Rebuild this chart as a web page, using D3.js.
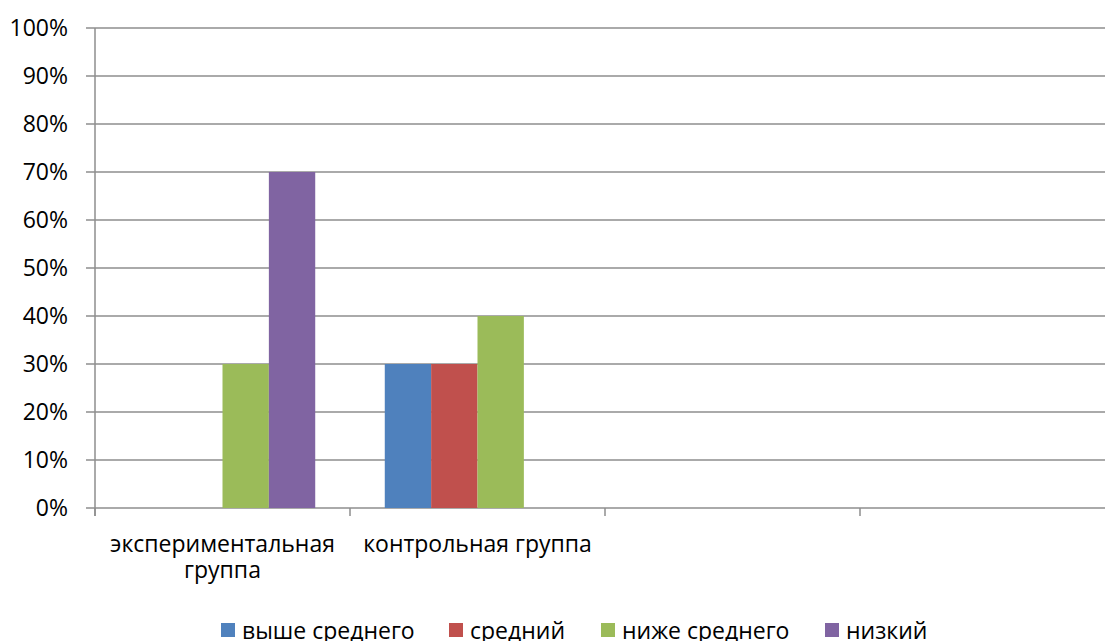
<!DOCTYPE html>
<html>
<head>
<meta charset="utf-8">
<script src="https://cdn.jsdelivr.net/npm/d3@7"></script>
<style>
  html, body { margin: 0; padding: 0; background: #fff; overflow: hidden; }
  svg text { font-family: "Open Sans", "Liberation Sans", sans-serif; fill: #000; }
</style>
</head>
<body>
<svg id="chart" width="1105" height="641"></svg>
<script>
// Category slots on the x axis (the last two are empty)
const categories = ["экспериментальная группа", "контрольная группа", "", " "];
const seriesNames = ["выше среднего", "средний", "ниже среднего", "низкий"];
const seriesColors = ["#4F81BD", "#C0504D", "#9BBB59", "#8064A2"];
// Share of students per level, by group
const valuesBySeries = [
  [0, 0.30, null, null],
  [0, 0.30, null, null],
  [0.30, 0.40, null, null],
  [0.70, 0, null, null]
];
const yTicks = [0, 0.1, 0.2, 0.3, 0.4, 0.5, 0.6, 0.7, 0.8, 0.9, 1.0];

const svg = d3.select("#chart");
const plot = { left: 95, top: 28, right: 1115, bottom: 508 };
const fontSize = 23;
const gridColor = "#8e8e8e";

const x = d3.scaleBand().domain(categories).range([plot.left, plot.right]);
// four bars per group with a 150% gap shared between the two sides
const xInner = d3.scaleBand().domain(seriesNames).range([0, x.bandwidth()])
  .paddingInner(0).paddingOuter(0.75);
const y = d3.scaleLinear().domain([0, 1]).range([plot.bottom, plot.top]);

// horizontal gridlines (with the short tick stubs on the left)
svg.append("g").selectAll("line").data(yTicks).join("line")
  .attr("x1", plot.left - 9).attr("x2", plot.right)
  .attr("y1", d => y(d)).attr("y2", d => y(d))
  .attr("stroke", gridColor).attr("stroke-width", 1.5);

// y tick labels
svg.append("g").selectAll("text").data(yTicks).join("text")
  .attr("x", 68).attr("y", d => y(d)).attr("dy", "0.36em")
  .attr("text-anchor", "end").attr("font-size", fontSize)
  .text(d => d3.format(".0%")(d));

// bars
const seriesData = seriesNames.map((name, i) => ({ name, color: seriesColors[i], values: valuesBySeries[i] }));
svg.append("g").selectAll("g").data(seriesData).join("g")
  .attr("fill", d => d.color)
  .selectAll("rect")
  .data(d => d.values.map((v, j) => ({ name: d.name, cat: categories[j], v })).filter(e => e.v))
  .join("rect")
  .attr("x", e => x(e.cat) + xInner(e.name))
  .attr("width", xInner.bandwidth())
  .attr("y", e => y(e.v))
  .attr("height", e => y(0) - y(e.v));

// y axis line
svg.append("line")
  .attr("x1", plot.left).attr("x2", plot.left)
  .attr("y1", plot.top).attr("y2", plot.bottom + 8)
  .attr("stroke", gridColor).attr("stroke-width", 1.5);

// category boundary ticks
svg.append("g").selectAll("line").data(categories).join("line")
  .attr("x1", d => x(d)).attr("x2", d => x(d))
  .attr("y1", plot.bottom).attr("y2", plot.bottom + 8)
  .attr("stroke", gridColor).attr("stroke-width", 1.5);

// category labels, wrapped as in the source
const catLines = [["экспериментальная", "группа"], ["контрольная группа"], [], []];
svg.append("g").selectAll("text").data(categories).join("text")
  .attr("text-anchor", "middle").attr("font-size", fontSize)
  .attr("transform", d => `translate(${x(d) + x.bandwidth() / 2},552)`)
  .each(function (d, i) {
    d3.select(this).selectAll("tspan").data(catLines[i]).join("tspan")
      .attr("x", 0).attr("dy", (t, k) => k === 0 ? 0 : 26).text(t => t);
  });

// legend
const legendX = [221, 449, 601, 825];
const legend = svg.append("g").selectAll("g").data(seriesData).join("g")
  .attr("transform", (d, i) => `translate(${legendX[i]},630)`);
legend.append("rect").attr("x", 0).attr("y", -7).attr("width", 14).attr("height", 14).attr("fill", d => d.color);
legend.append("text").attr("x", 21).attr("y", 9).attr("font-size", fontSize).text(d => d.name);
</script>
</body>
</html>
